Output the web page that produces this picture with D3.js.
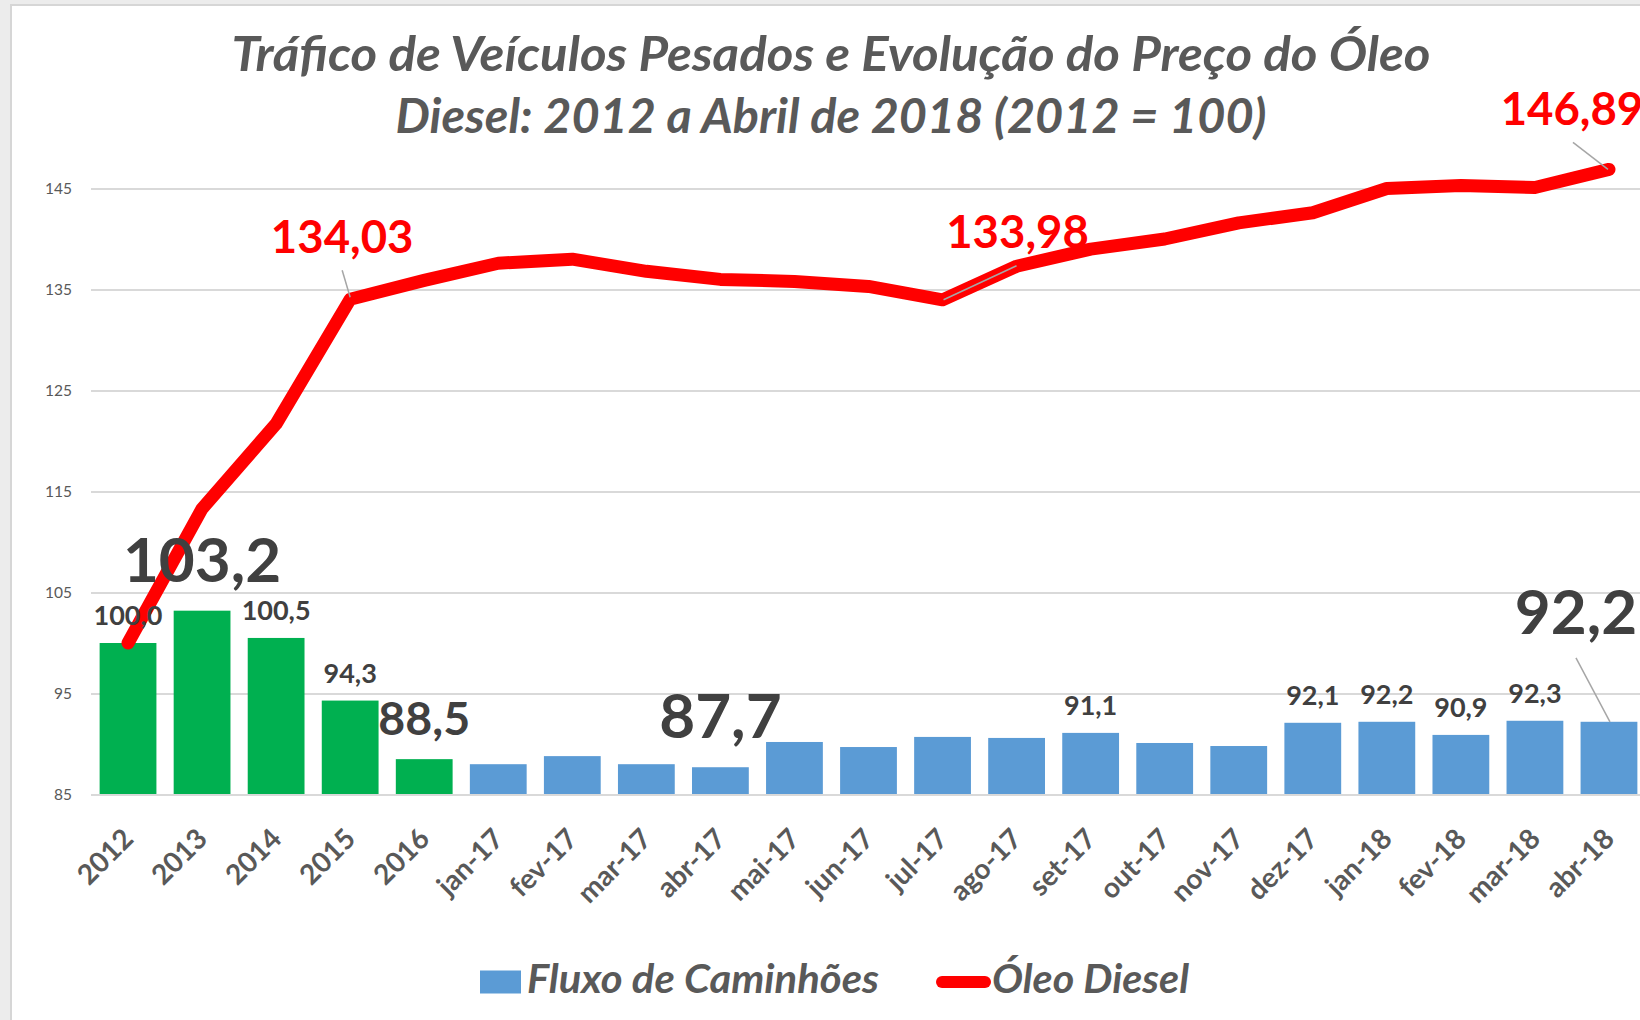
<!DOCTYPE html>
<html><head><meta charset="utf-8">
<script src="https://cdn.jsdelivr.net/npm/d3@7"></script>
<style>
html,body{margin:0;padding:0;background:#ececec;}
svg{display:block;}
text{font-family:Lato,"Open Sans",sans-serif;}
</style></head><body>
<svg id="chart" width="1640" height="1020"></svg>
<script>
// ---------------- data ----------------
const categories = ["2012","2013","2014","2015","2016","jan-17","fev-17","mar-17","abr-17","mai-17","jun-17","jul-17","ago-17","set-17","out-17","nov-17","dez-17","jan-18","fev-18","mar-18","abr-18"];
const truckFlow = [100.0,103.2,100.5,94.3,88.5,88.0,88.8,88.0,87.7,90.2,89.7,90.7,90.6,91.1,90.1,89.8,92.1,92.2,90.9,92.3,92.2];
const dieselPrice = [100.0,113.3,121.7,134.03,135.9,137.6,138.0,136.8,136.0,135.8,135.3,133.98,137.3,139.0,140.0,141.6,142.6,145.0,145.3,145.1,146.89];
const annualCategories = ["2012","2013","2014","2015","2016"];
const yTickValues = [85,95,105,115,125,135,145];
const seriesNames = ["Fluxo de Caminhões","Óleo Diesel"];
const titleLines = ["Tráfico de Veículos Pesados e Evolução do Preço do Óleo","Diesel: 2012 a Abril de 2018 (2012 = 100)"];
const truckLabelled = ["2012","2013","2014","2015","2016","abr-17","set-17","dez-17","jan-18","fev-18","mar-18","abr-18"];
const dieselLabelled = ["2015","jul-17","abr-18"];

// ---------------- styles ----------------
const C = {green:"#00B050", blue:"#5B9BD5", red:"#FF0000", grid:"#D9D9D9", axisText:"#595959", label:"#404040", leader:"#A6A6A6"};
const truckLabelSize = {"2013":62,"2016":46.5,"abr-17":62,"abr-18":62};
const fmt = v => d3.format(".1f")(v).replace(".", ",");
const fmt2 = v => d3.format(".2f")(v).replace(".", ",");

const svg = d3.select("#chart");
svg.append("rect").attr("x",0).attr("y",0).attr("width",1640).attr("height",1020).attr("fill","#ececec");
svg.append("rect").attr("x",11).attr("y",5).attr("width",1660).attr("height",1040)
   .attr("fill","#fff").attr("stroke","#d6d6d6").attr("stroke-width",2);

const x = d3.scaleBand().domain(categories).range([91,1646]).paddingInner(0.233).paddingOuter(0.1165);
const y = d3.scaleLinear().domain([85,145]).range([794.5,188.5]);
const cx = c => x(c) + x.bandwidth()/2;

// gridlines + y axis
const gy = svg.append("g").attr("transform","translate(91,0)")
  .call(d3.axisLeft(y).tickValues(yTickValues).tickSize(-(1646-91)).tickPadding(19).tickFormat(d3.format("d")));
gy.select(".domain").remove();
gy.selectAll(".tick line").attr("stroke",C.grid).attr("stroke-width",2);
gy.selectAll(".tick text").attr("fill",C.axisText).attr("font-size",15.5).style("font-family","Lato");

// bars
svg.append("g").selectAll("rect").data(categories).join("rect")
  .attr("x", c => x(c)).attr("width", x.bandwidth())
  .attr("y", (c,i) => y(truckFlow[i])).attr("height", (c,i) => y(85) - y(truckFlow[i]))
  .attr("fill", c => annualCategories.includes(c) ? C.green : C.blue);

// x axis
const gx = svg.append("g").attr("transform",`translate(0,${y(85)})`)
  .call(d3.axisBottom(x).tickSize(0).tickSizeOuter(0));
gx.select(".domain").attr("stroke",C.grid).attr("stroke-width",2);
gx.selectAll(".tick text")
  .attr("x",0).attr("y",0).attr("dy",0)
  .attr("text-anchor","end")
  .attr("transform","translate(7,46) rotate(-45)")
  .attr("fill",C.axisText).attr("font-size",28).attr("font-weight","bold")
  .style("font-family","Lato");

// diesel line
const line = d3.line().x((d,i) => cx(categories[i])).y(d => y(d));
svg.append("path").datum(dieselPrice).attr("d",line)
  .attr("fill","none").attr("stroke",C.red).attr("stroke-width",13)
  .attr("stroke-linejoin","round").attr("stroke-linecap","round");

// truck labels
const tl = svg.append("g");
truckLabelled.forEach(c => {
  const i = categories.indexOf(c);
  const v = truckFlow[i];
  const fs = truckLabelSize[c] || 27;
  let px = cx(c), py;
  if (c === "abr-18") {
    px = cx(c) - 33; py = y(v) - 88;
    tl.append("line").attr("x1",cx(c)-33).attr("y1",y(v)-64).attr("x2",cx(c)+1).attr("y2",y(v))
      .attr("stroke",C.leader).attr("stroke-width",1.5);
  } else {
    py = y(v) - (fs >= 60 ? 29 : fs >= 45 ? 24 : 18);
  }
  tl.append("text").attr("x",px).attr("y",py).attr("text-anchor","middle")
    .attr("font-size",fs).attr("font-weight","bold").attr("fill",C.label).text(fmt(v));
});

// diesel labels
const dl = svg.append("g");
const dieselLabelOffset = {"2015":{dx:-8,dy:-46,lx1:-8,ly1:-29,lx2:0,ly2:-2},
                           "jul-17":{dx:75,dy:-52,lx1:1,ly1:0,lx2:74,ly2:-34},
                           "abr-18":{dx:-37,dy:-44,lx1:-36,ly1:-27,lx2:-1,ly2:0}};
dieselLabelled.forEach(c => {
  const i = categories.indexOf(c);
  const v = dieselPrice[i];
  const o = dieselLabelOffset[c];
  const px = cx(c), py = y(v);
  dl.append("line").attr("x1",px+o.lx1).attr("y1",py+o.ly1).attr("x2",px+o.lx2).attr("y2",py+o.ly2)
    .attr("stroke",C.leader).attr("stroke-width",1.5);
  dl.append("text").attr("x",px+o.dx).attr("y",py+o.dy).attr("text-anchor","middle")
    .attr("font-size",45.5).attr("font-weight","bold").attr("fill",C.red).text(fmt2(v));
});

// title
const titleWidths = [1199, 871];
svg.append("g").selectAll("text").data(titleLines).join("text")
  .attr("x",831).attr("y",(d,i) => i === 0 ? 71 : 133)
  .attr("text-anchor","middle").attr("font-size",47).attr("font-weight","bold")
  .attr("font-style","italic").attr("fill",C.axisText)
  .attr("textLength",(d,i) => titleWidths[i]).attr("lengthAdjust","spacingAndGlyphs")
  .text(d => d);

// legend
const lg = svg.append("g");
lg.append("rect").attr("x",480).attr("y",970.5).attr("width",41).attr("height",23).attr("fill",C.blue);
lg.append("text").attr("x",527).attr("y",993).attr("font-size",40).attr("font-weight","bold")
  .attr("font-style","italic").attr("fill",C.axisText)
  .attr("textLength",352).attr("lengthAdjust","spacingAndGlyphs").text(seriesNames[0]);
lg.append("line").attr("x1",942).attr("x2",985).attr("y1",982).attr("y2",982)
  .attr("stroke",C.red).attr("stroke-width",12).attr("stroke-linecap","round");
lg.append("text").attr("x",992).attr("y",993).attr("font-size",40).attr("font-weight","bold")
  .attr("font-style","italic").attr("fill",C.axisText)
  .attr("textLength",197).attr("lengthAdjust","spacingAndGlyphs").text(seriesNames[1]);
</script>
</body></html>
